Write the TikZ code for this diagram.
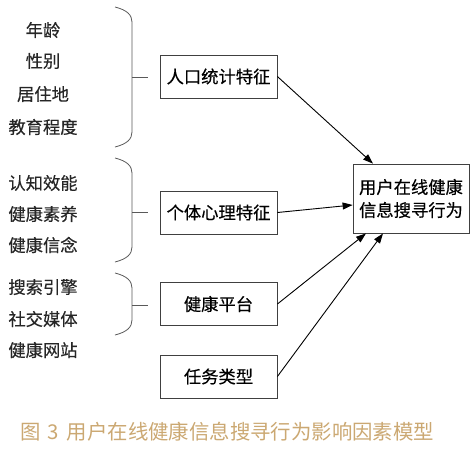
\documentclass[tikz,border=0pt]{standalone}
\usepackage{fontspec}
\setmainfont{Noto Sans CJK SC}[FakeBold=0.35]
\newfontfamily\capfont{Noto Sans CJK SC}
\usetikzlibrary{arrows.meta,positioning}
\definecolor{captan}{HTML}{CBA872}

\begin{document}
\begin{tikzpicture}[x=1pt, y=-1pt, font=\fontsize{17.3}{23}\selectfont,
    factor/.style={draw=black!75, line width=0.8pt, minimum width=117pt, minimum height=43pt, inner sep=2pt},
    item/.style={text=black!85, inner sep=1pt},
    brace/.style={draw=black!65, line width=0.8pt},
    link/.style={line width=0.9pt, -{Triangle[length=10pt, width=7pt]}}]
    \useasboundingbox (0,0) rectangle (474,451);

    % Items on the left
    \foreach \t/\y/\n in {年龄/30/a1, 性别/61/a2, 居住地/94/a3, 教育程度/127/a4,
                          认知效能/183/b1, 健康素养/214/b2, 健康信念/245/b3,
                          搜索引擎/287/c1, 社交媒体/319/c2, 健康网站/350/c3}
        \node[item] (\n) at (43,\y) {\t};

    % Braces: top / bottom / middle
    \foreach \top/\bot/\mid/\n in {7/147/77/p, 158/262/212/q, 273/335/305/r} {
        \draw[brace] (115,\top) .. controls (127,\top+3) and (132,\top+8) .. (132,\top+15)
            -- (132,\bot-15) .. controls (132,\bot-8) and (127,\bot-3) .. (115,\bot);
        \coordinate (\n) at (132,\mid);
        \coordinate (\n tip) at (148,\mid);
        \draw[brace] (\n) -- (\n tip);
    }

    % Factor boxes
    \node[factor] (demo) at (218.5,76.5) {人口统计特征};
    \node[factor] (psych) at (218.5,212.5) {个体心理特征};
    \node[factor] (plat) at (218.5,304) {健康平台};
    \node[factor] (task) at (218.5,376.5) {任务类型};

    % Outcome
    \node[factor, minimum width=116pt, minimum height=69pt, align=center] (behav) at (411,198.5)
        {用户在线健康\\信息搜寻行为};

    % Arrows
    \draw[link] (demo.east) -- (behav.north west -| 373,0);
    \draw[link] (psych.east) -- (behav.west |- 0,205);
    \draw[link] (plat.east) -- (behav.south west -| 366,0);
    \draw[link] (task.east) -- (behav.south west -| 383,0);

    % Caption
    \node[text=captan, font=\capfont\fontsize{20.4}{24}\selectfont, anchor=west, inner sep=0pt] (cap) at (20,432)
        {图\hspace{7pt}3\hspace{8pt}用户在线健康信息搜寻行为影响因素模型};
\end{tikzpicture}
\end{document}
